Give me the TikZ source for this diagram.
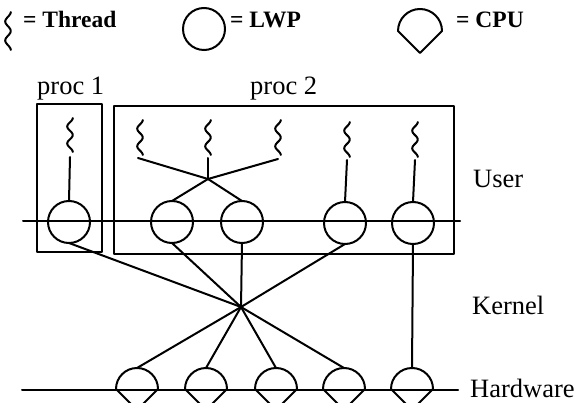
\documentclass[tikz,border=0pt]{standalone}
\usepackage{fontspec}
\setmainfont{Liberation Serif}
\newcommand\thrsq[3]{\draw[ln] plot[domain=0:1,samples=30,smooth] ({#1+2.8*cos(720*\x)},{#2+#3*\x});}
\begin{document}
\begin{tikzpicture}[x=1pt,y=-1pt,
  ln/.style={line width=2pt,line cap=round,line join=round},
  lwp/.style={circle,draw,line width=2pt,minimum size=42pt,inner sep=0pt,outer sep=0pt},
  cpu/.style={circle,draw=none,minimum size=44pt,inner sep=0pt,outer sep=0pt},
  lab/.style={anchor=base west,inner sep=0pt,font=\fontsize{26.5}{30}\selectfont},
  leg/.style={anchor=base west,inner sep=0pt,font=\fontsize{23.5}{26}\selectfont\bfseries}]
\useasboundingbox (0,0) rectangle (577,403);
% legend
\thrsq{8}{12}{38}
\node[leg] (lt) at (23,28) {= Thread};
\node[lwp] (llwp) at (204,29) {};
\node[leg] (ll) at (230,28) {= LWP};
\node[cpu] (lcpu) at (420,31) {};
\draw[ln] (lcpu.west) arc[start angle=180,end angle=0,radius=22pt] -- (lcpu.south) -- cycle;
\node[leg] (lc) at (456,28) {= CPU};
% boxes
\draw[ln] (37,104) rectangle (102,252);
\draw[ln] (114,106) rectangle (454,254);
\node[lab] (p1) at (37,95) {proc 1};
\node[lab] (p2) at (250,95) {proc 2};
% layer lines
\coordinate (uk1) at (23,221); \coordinate (uk2) at (460,221);
\draw[ln] (uk1) -- (uk2);
\coordinate (hw1) at (22,390); \coordinate (hw2) at (458,390);
\draw[ln] (hw1) -- (hw2);
\node[lab] (user) at (473,188) {User};
\node[lab] (kern) at (472,314) {Kernel};
\node[lab] (hard) at (470,397) {Hardware};
% LWPs
\node[lwp] (L0) at (69,222) {};
\node[lwp] (L1) at (172,222) {};
\node[lwp] (L2) at (242,222) {};
\node[lwp] (L3) at (345,223) {};
\node[lwp] (L4) at (413,223) {};
% CPUs
\foreach \n/\x in {C1/137,C2/206,C3/276,C4/344,C5/412}{
  \node[cpu,minimum size=42pt] (\n) at (\x,389) {};
  \draw[ln] (\n.west) arc[start angle=180,end angle=0,radius=21pt] -- (\n.south) -- cycle;
}
% threads
\thrsq{70}{118}{34}   \coordinate (t0) at (70,157);
\thrsq{140}{120}{35}  \coordinate (t1) at (138,158);
\thrsq{208}{120}{35}  \coordinate (t2) at (208,158);
\thrsq{278}{120}{35}  \coordinate (t3) at (278,159);
\thrsq{347}{122}{35}  \coordinate (t4) at (347,160);
\thrsq{415}{122}{35}  \coordinate (t5) at (415,160);
\coordinate (J) at (208,179);
\coordinate (K) at (241,307);
% connectors
\draw[ln] (t0) -- (L0.north);
\draw[ln] (t1) -- (J);
\draw[ln] (t2) -- (J);
\draw[ln] (t3) -- (J);
\draw[ln] (J) -- (L1.north);
\draw[ln] (J) -- (L2.north);
\draw[ln] (t4) -- (L3.north);
\draw[ln] (t5) -- (L4.north);
\draw[ln] (L0.south) -- (K);
\draw[ln] (L1.south) -- (K);
\draw[ln] (L2.south) -- (K);
\draw[ln] (L3.south) -- (K);
\draw[ln] (K) -- (C1.north);
\draw[ln] (K) -- (C2.north);
\draw[ln] (K) -- (C3.north);
\draw[ln] (K) -- (C4.north);
\draw[ln] (L4.south) -- (C5.north);
\end{tikzpicture}
\end{document}
